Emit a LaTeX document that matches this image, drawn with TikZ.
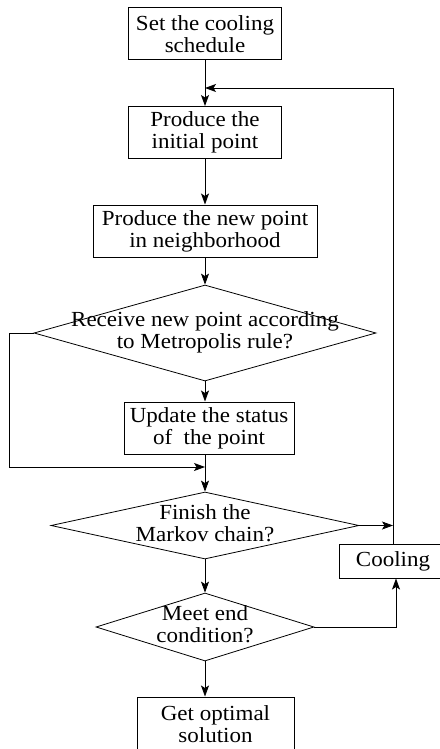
\documentclass[tikz,border=0pt]{standalone}
\usepackage{fontspec}
\setmainfont{Liberation Serif}[FakeStretch=1.07]
\usetikzlibrary{shapes.geometric,arrows.meta}
\tikzset{
  every node/.style={font=\fontsize{21.5}{22}\selectfont},
  stepbox/.style={draw, line width=1pt, align=center, inner sep=2pt, minimum height=52pt},
  decision/.style={draw, diamond, line width=0.8pt, inner sep=0pt},
  flow/.style={line width=0.8pt, -{Stealth[length=11pt,width=8pt,inset=2.5pt]}}
}
\newcommand{\dtext}[1]{\makebox[0pt]{\smash{\raisebox{-0.25em}{\begin{tabular}{@{}c@{}}#1\end{tabular}}}}}

\begin{document}
\begin{tikzpicture}[x=1pt, y=1pt, node distance=98pt]
    \useasboundingbox (0,0) rectangle (439,-749);

    \node[stepbox, minimum width=153pt] (sched) at (205,-34) {Set the cooling\\schedule};
    \node[stepbox, below of=sched, node distance=98.5pt, minimum width=153pt] (init) {Produce the\\initial point};
    \node[stepbox, below of=init, node distance=98.5pt, minimum width=224pt] (newpt) {Produce the new point\\in neighborhood};
    \node[decision, below of=newpt, node distance=102pt, minimum width=342pt, minimum height=96pt] (accept) {\dtext{Receive new point according\\to Metropolis rule?}};
    \node[stepbox, below of=accept, node distance=95pt, xshift=4pt, minimum width=170pt] (update) {Update the status\\of~ the point};
    \node[decision, below of=accept, node distance=192.5pt, minimum width=308pt, minimum height=67pt] (markov) {\dtext{Finish the\\Markov chain?}};
    \node[decision, below of=markov, node distance=101.5pt, minimum width=218pt, minimum height=68pt] (endcond) {\dtext{Meet end\\condition?}};
    \node[stepbox, below of=endcond, node distance=97pt, xshift=10.5pt, minimum width=157pt, minimum height=54pt] (optimal) {Get optimal\\solution};
    \node[stepbox, minimum width=108pt, minimum height=34pt] (cool) at (393,-561) {Cooling};

    % points where the loops join the main line
    \coordinate[above of=init, node distance=44.5pt] (ret);
    \coordinate[above of=markov, node distance=58.5pt] (merge);

    \draw[flow] (sched) -- (init);
    \draw[flow] (init) -- (newpt);
    \draw[flow] (newpt) -- (accept);
    \draw[flow] (accept.south) -- (accept.south |- update.north);
    \draw[line width=0.8pt] (merge |- update.south) -- (merge);
    \draw[flow] (merge) -- (markov.north);
    \draw[flow] (accept.west) -- ++(-24,0) |- (merge);
    \draw[flow] (markov) -- (endcond);
    \draw[flow] (endcond.south) -- (endcond.south |- optimal.north);

    % cooling loop
    \draw[flow] (markov.east) -- (cool.north |- markov.east);
    \draw[flow] (endcond.east) -| ([xshift=3pt]cool.south);
    \draw[flow] (cool.north) |- (ret);
\end{tikzpicture}
\end{document}
